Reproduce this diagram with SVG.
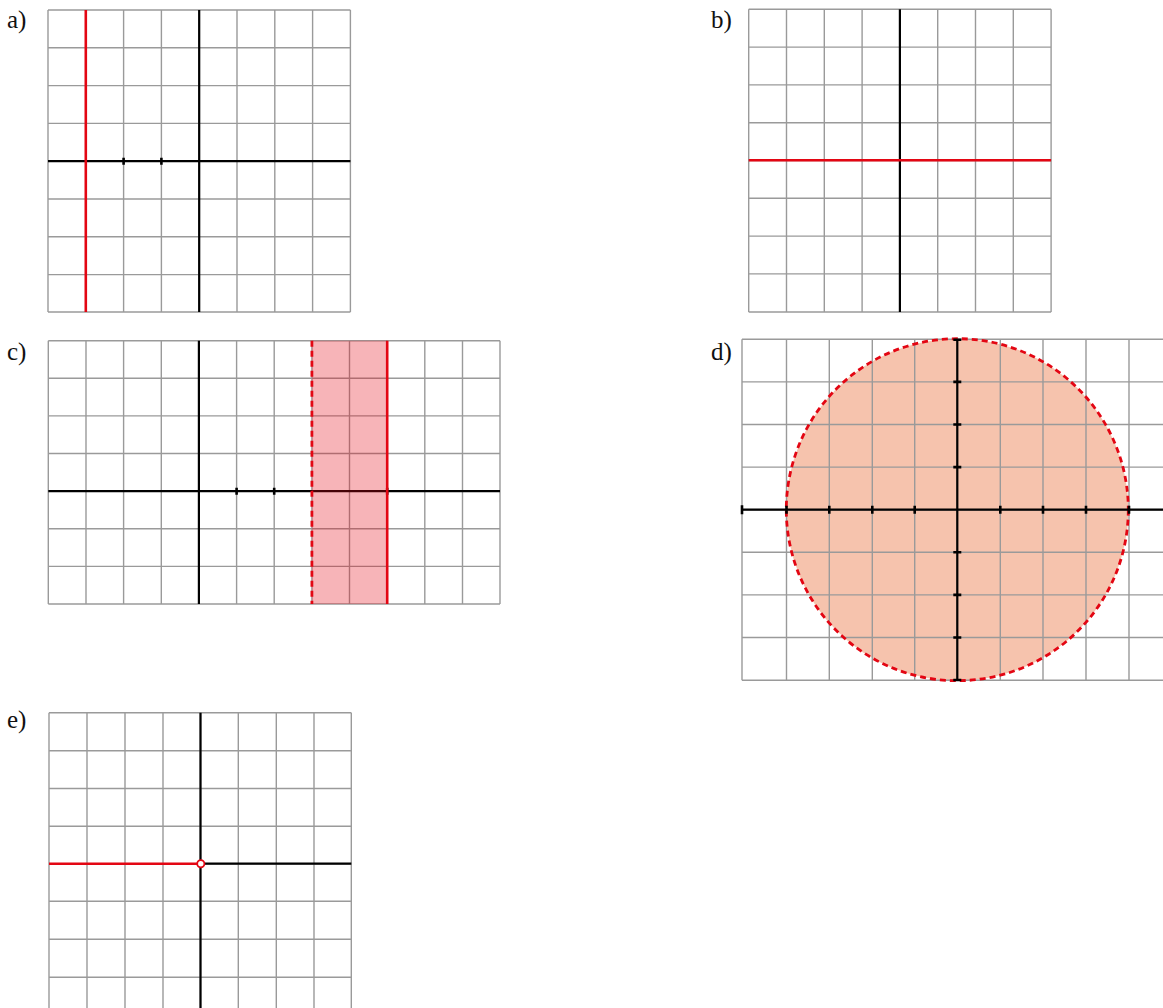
<svg xmlns="http://www.w3.org/2000/svg" width="1163" height="1008" viewBox="0 0 1163 1008">
<style>
.g{stroke:#9a9a9a;stroke-width:1.4;fill:none}
.ax{stroke:#000;stroke-width:2.2;fill:none}
.tk{stroke:#000;stroke-width:2.6;fill:none}
.red{stroke:#e30613;stroke-width:2.6;fill:none}
.dash{stroke:#e30613;stroke-width:2.8;fill:none;stroke-dasharray:6 4}
.lbl{font-family:"Liberation Serif",serif;font-size:25px;fill:#111}
</style>
<rect width="1163" height="1008" fill="#fff"/>

<g id="panel-a">
<text class="lbl" x="7" y="28">a)</text>
<path class="g" d="M48,10V312M85.8,10V312M123.6,10V312M161.4,10V312M199.2,10V312M237,10V312M274.8,10V312M312.6,10V312M350.4,10V312M48,10H350.4M48,47.8H350.4M48,85.6H350.4M48,123.4H350.4M48,161.2H350.4M48,199H350.4M48,236.8H350.4M48,274.6H350.4M48,312H350.4"/>
<path class="ax" d="M48,161.2H350.4M199.2,10V312"/>
<path class="tk" d="M123.6,157.7V164.7M161.4,157.7V164.7"/>
<path class="red" d="M85.8,10V312"/>
</g>

<g id="panel-b">
<text class="lbl" x="711" y="28">b)</text>
<path class="g" d="M748.7,9.3V312M786.5,9.3V312M824.3,9.3V312M862.1,9.3V312M899.9,9.3V312M937.7,9.3V312M975.5,9.3V312M1013.3,9.3V312M1051.1,9.3V312M748.7,9.3H1051.1M748.7,47.1H1051.1M748.7,84.9H1051.1M748.7,122.7H1051.1M748.7,160.5H1051.1M748.7,198.3H1051.1M748.7,236.1H1051.1M748.7,273.9H1051.1M748.7,312H1051.1"/>
<path class="ax" d="M899.9,9.3V312"/>
<path class="red" d="M748.7,160.3H1051.1"/>
</g>

<g id="panel-c">
<text class="lbl" x="7" y="360">c)</text>
<path class="g" d="M48.3,340.7V604M86,340.7V604M123.6,340.7V604M161.3,340.7V604M198.9,340.7V604M236.6,340.7V604M274.2,340.7V604M311.9,340.7V604M349.5,340.7V604M387.2,340.7V604M424.8,340.7V604M462.5,340.7V604M500,340.7V604M48.3,340.7H500M48.3,378.3H500M48.3,415.9H500M48.3,453.5H500M48.3,491.2H500M48.3,528.8H500M48.3,566.4H500M48.3,604H500"/>
<path class="ax" d="M48.3,491.2H500M198.9,340.7V604"/>
<path class="tk" d="M236.6,487.7V494.7M274.2,487.7V494.7M387.2,487.7V494.7"/>
<rect x="311.9" y="340.7" width="75.3" height="263.3" fill="#e30613" fill-opacity="0.3"/>
<path class="dash" d="M311.9,340.7V604"/>
<path class="red" d="M387.2,340.7V604"/>
</g>

<g id="panel-d">
<text class="lbl" x="711" y="360">d)</text>
<circle cx="957.3" cy="509.7" r="171" fill="#f6c3ad"/>
<path class="g" d="M742,339.3V680.3M786.5,339.3V680.3M829.3,339.3V680.3M872.3,339.3V680.3M914.7,339.3V680.3M957.3,339.3V680.3M1000.3,339.3V680.3M1043,339.3V680.3M1086,339.3V680.3M1129,339.3V680.3M742,339.3H1163M742,381.9H1163M742,424.5H1163M742,467.1H1163M742,509.7H1163M742,552.3H1163M742,594.9H1163M742,637.5H1163M742,680.3H1163"/>
<circle cx="957.3" cy="509.7" r="171" class="dash"/>
<path class="ax" d="M742,509.7H1163M957.3,339.3V680.3"/>
<path class="tk" d="M742,505.2V514.2M786.5,505.7V513.7M829.3,505.7V513.7M872.3,505.7V513.7M914.7,505.7V513.7M1000.3,505.7V513.7M1043,505.7V513.7M1086,505.7V513.7M1129,505.7V513.7M953.3,339.8H961.3M953.3,381.9H961.3M953.3,424.5H961.3M953.3,467.1H961.3M953.3,552.3H961.3M953.3,594.9H961.3M953.3,637.5H961.3M953.3,680H961.3"/>
</g>

<g id="panel-e">
<text class="lbl" x="7" y="728">e)</text>
<path class="g" d="M49,712.7V1008M87,712.7V1008M125,712.7V1008M163,712.7V1008M200.5,712.7V1008M238.3,712.7V1008M276.3,712.7V1008M314,712.7V1008M351.3,712.7V1008M49,712.7H351.3M49,750.7H351.3M49,788.5H351.3M49,826.3H351.3M49,863.7H351.3M49,901.3H351.3M49,939.3H351.3M49,977.3H351.3"/>
<path class="ax" d="M200.5,863.7H351.3M200.5,712.7V1008"/>
<path class="red" d="M49,863.7H197"/>
<circle cx="200.8" cy="863.7" r="3.6" fill="#fff" stroke="#e30613" stroke-width="1.8"/>
</g>
</svg>
